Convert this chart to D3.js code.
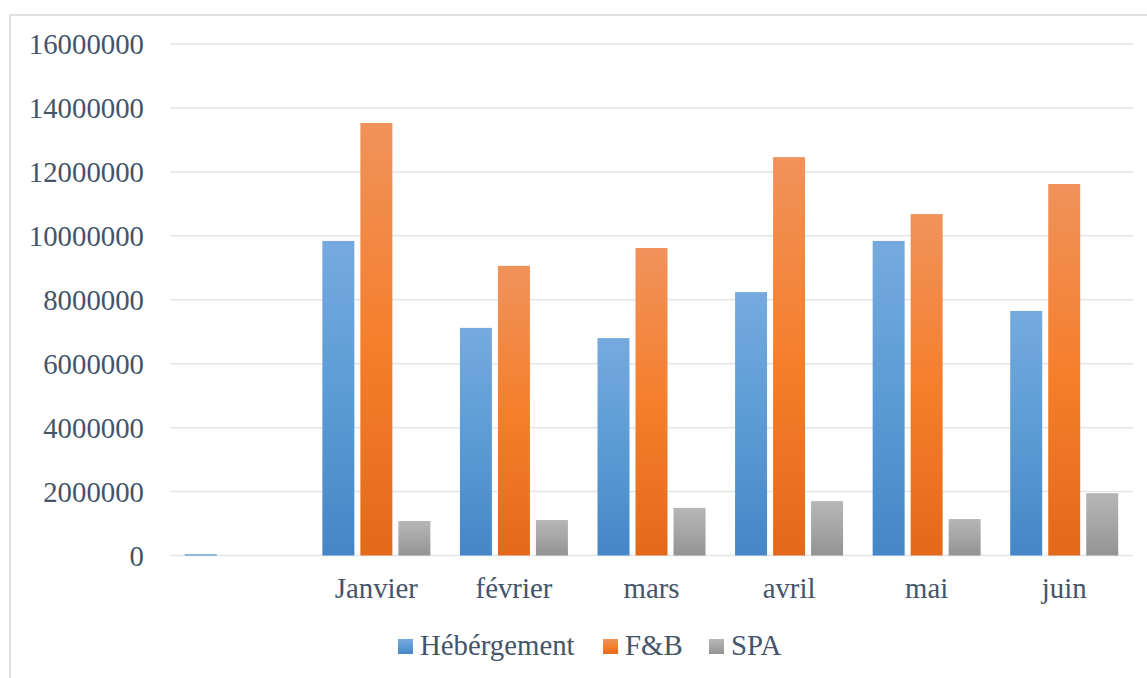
<!DOCTYPE html>
<html>
<head>
<meta charset="utf-8">
<script src="https://cdn.jsdelivr.net/npm/d3@7"></script>
<style>
  html, body { margin: 0; padding: 0; background: #fff; }
  svg { display: block; }
</style>
</head>
<body>
<svg id="chart" width="1147" height="678"></svg>
<script>
// Categories along the x axis (the first one has no label)
const categories = ["", "Janvier", "février", "mars", "avril", "mai", "juin"];
// Series names, in legend order
const seriesNames = ["Hébérgement", "F&B", "SPA"];
// Monthly values per series
const hebergement = [40000, 9840000, 7120000, 6800000, 8240000, 9840000, 7650000];
const fnb = [0, 13530000, 9060000, 9620000, 12460000, 10680000, 11620000];
const spa = [0, 1080000, 1110000, 1490000, 1700000, 1140000, 1950000];
// Y axis ticks
const yTicks = [0, 2000000, 4000000, 6000000, 8000000, 10000000, 12000000, 14000000, 16000000];

const seriesValues = [hebergement, fnb, spa];
const gradients = [
  ["#76aade", "#5b9bd5", "#4486c7"],
  ["#f0925b", "#f57f2d", "#e3691a"],
  ["#b6b6b6", "#a6a6a6", "#939393"]
];
const swatch = ["#5b9bd5", "#ed7d31", "#a5a5a5"];
const textColor = "#44546a";
const font = "'Liberation Serif', 'Times New Roman', serif";

const svg = d3.select("#chart");

// Outer chart frame
svg.append("rect")
  .attr("x", 10).attr("y", 15)
  .attr("width", 1150).attr("height", 700)
  .attr("fill", "none")
  .attr("stroke", "#dde1e6")
  .attr("stroke-width", 2);

const plot = { left: 170, right: 1133, top: 44, bottom: 555.5 };

const y = d3.scaleLinear().domain([0, 16000000]).range([plot.bottom, plot.top]);
const x0 = d3.scaleBand().domain(categories.map((c, i) => i))
  .range([plot.left, plot.right])
  .paddingInner(0.215).paddingOuter(0.1075);
const x1 = d3.scaleBand().domain(seriesNames)
  .range([0, x0.bandwidth()])
  .paddingInner(0.158).paddingOuter(0);

// Vertical gradients for the bars
const defs = svg.append("defs");
seriesNames.forEach((s, i) => {
  const g = defs.append("linearGradient")
    .attr("id", "grad" + i)
    .attr("x1", 0).attr("y1", 0).attr("x2", 0).attr("y2", 1);
  g.append("stop").attr("offset", "0%").attr("stop-color", gradients[i][0]);
  g.append("stop").attr("offset", "50%").attr("stop-color", gradients[i][1]);
  g.append("stop").attr("offset", "100%").attr("stop-color", gradients[i][2]);
});

// Horizontal gridlines
svg.append("g")
  .selectAll("line")
  .data(yTicks)
  .join("line")
  .attr("x1", plot.left).attr("x2", plot.right)
  .attr("y1", d => y(d)).attr("y2", d => y(d))
  .attr("stroke", "#e1e5ea")
  .attr("stroke-width", 1.5);

// Y axis labels
const yAxis = d3.axisLeft(y).tickValues(yTicks).tickFormat(d3.format("d")).tickSize(0).tickPadding(0);
const yg = svg.append("g").attr("transform", `translate(144,0)`).call(yAxis);
yg.select(".domain").remove();
yg.selectAll("text")
  .attr("fill", textColor)
  .attr("font-family", font)
  .attr("font-size", "28.8px")
  .attr("dy", "0.34em");

// Bars
const groups = svg.append("g")
  .selectAll("g")
  .data(categories.map((c, i) => i))
  .join("g")
  .attr("transform", i => `translate(${x0(i)},0)`);

groups.selectAll("rect")
  .data(i => seriesNames.map((s, k) => ({ s, k, v: seriesValues[k][i] })))
  .join("rect")
  .filter(d => d.v > 0)
  .attr("x", d => x1(d.s))
  .attr("width", x1.bandwidth())
  .attr("y", d => y(d.v))
  .attr("height", d => Math.max(1, y(0) - y(d.v)))
  .attr("fill", d => `url(#grad${d.k})`);

// X axis labels
const xAxis = d3.axisBottom(x0).tickFormat(i => categories[i]).tickSize(0).tickPadding(0);
const xg = svg.append("g").attr("transform", `translate(0,598)`).call(xAxis);
xg.select(".domain").remove();
xg.selectAll("text")
  .attr("fill", textColor)
  .attr("font-family", font)
  .attr("font-size", "28.8px")
  .attr("dy", 0);

// Legend
const legendItems = [
  { name: seriesNames[0], sx: 398, tx: 420 },
  { name: seriesNames[1], sx: 603, tx: 625 },
  { name: seriesNames[2], sx: 709, tx: 731 }
];
const legend = svg.append("g");
legendItems.forEach((d, i) => {
  legend.append("rect")
    .attr("x", d.sx).attr("y", 639)
    .attr("width", 15).attr("height", 15)
    .attr("fill", `url(#grad${i})`);
  legend.append("text")
    .attr("x", d.tx).attr("y", 655)
    .attr("fill", textColor)
    .attr("font-family", font)
    .attr("font-size", "28.8px")
    .text(d.name);
});
</script>
</body>
</html>
